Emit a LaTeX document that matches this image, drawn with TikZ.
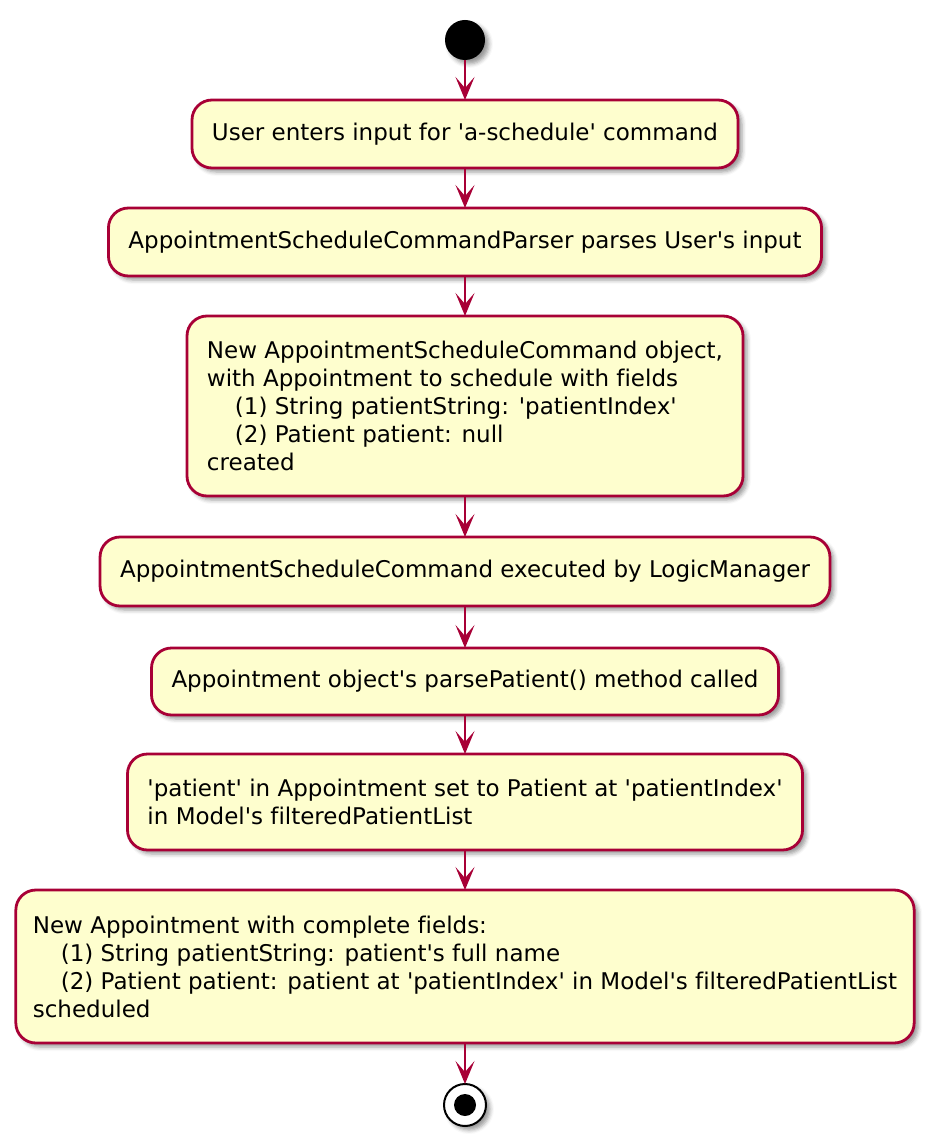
\documentclass[tikz,border=0pt]{standalone}
\usepackage{fontspec}
\setmainfont{DejaVu Sans}[Ligatures={TeXOff, CommonOff}]
\usetikzlibrary{positioning, shadows, shadows.blur, arrows.meta}
\definecolor{umlred}{HTML}{A80036}
\definecolor{umlfill}{HTML}{FEFECE}

\tikzset{
  umlshadow/.style={blur shadow={shadow xshift=4pt, shadow yshift=-4pt, shadow blur radius=4pt, shadow opacity=40}},
  act/.style={draw=umlred, fill=umlfill, line width=2.8pt, rounded corners=20pt,
    inner xsep=20pt, inner ysep=0pt, outer sep=0pt, minimum height=68pt, align=left,
    font=\fontsize{23}{28}\selectfont, umlshadow},
  startdot/.style={circle, fill=black, minimum size=40pt, inner sep=0pt, outer sep=0pt, umlshadow},
  enddot/.style={circle, draw=black, line width=2pt, fill=white, minimum size=42pt, inner sep=0pt,
    outer sep=0pt, umlshadow,
    path picture={\fill[black] (path picture bounding box.center) circle (11pt);}},
  flow/.style={draw=umlred, line width=2pt, -{Stealth[length=23pt, width=19pt, inset=11pt]}},
}

\newcommand{\ind}{\hspace*{28pt}}

\begin{document}
\begin{tikzpicture}[x=1pt, y=-1pt]
    \useasboundingbox (0,0) rectangle (930,1147);

    \node[startdot] (start) at (465,40) {};
    \node[act, below=40pt of start] (input) {User enters input for 'a-schedule' command};
    \node[act, below=40pt of input] (parse) {AppointmentScheduleCommandParser parses User's input};
    \node[act, below=40pt of parse, minimum height=180pt] (create)
        {New AppointmentScheduleCommand object,\\
         with Appointment to schedule with fields\\
         \ind(1) String patientString: 'patientIndex'\\
         \ind(2) Patient patient: null\\
         created};
    \node[act, below=41pt of create, minimum height=69pt] (exec) {AppointmentScheduleCommand executed by LogicManager};
    \node[act, below=42pt of exec, minimum height=67pt] (call) {Appointment object's parsePatient() method called};
    \node[act, below=39pt of call, minimum height=96pt] (setpat)
        {'patient' in Appointment set to Patient at 'patientIndex'\\
         in Model's filteredPatientList};
    \node[act, below=40pt of setpat, minimum height=153pt, inner xsep=17pt] (sched)
        {New Appointment with complete fields:\\
         \ind(1) String patientString: patient's full name\\
         \ind(2) Patient patient: patient at 'patientIndex' in Model's filteredPatientList\\
         scheduled};
    \node[enddot, below=41pt of sched] (stop) {};

    % connectors
    \draw[flow] (start) -- (input);
    \draw[flow] (input) -- (parse);
    \draw[flow] (parse) -- (create);
    \draw[flow] (create) -- (exec);
    \draw[flow] (exec) -- (call);
    \draw[flow] (call) -- (setpat);
    \draw[flow] (setpat) -- (sched);
    \draw[flow] (sched) -- (stop);
\end{tikzpicture}
\end{document}
